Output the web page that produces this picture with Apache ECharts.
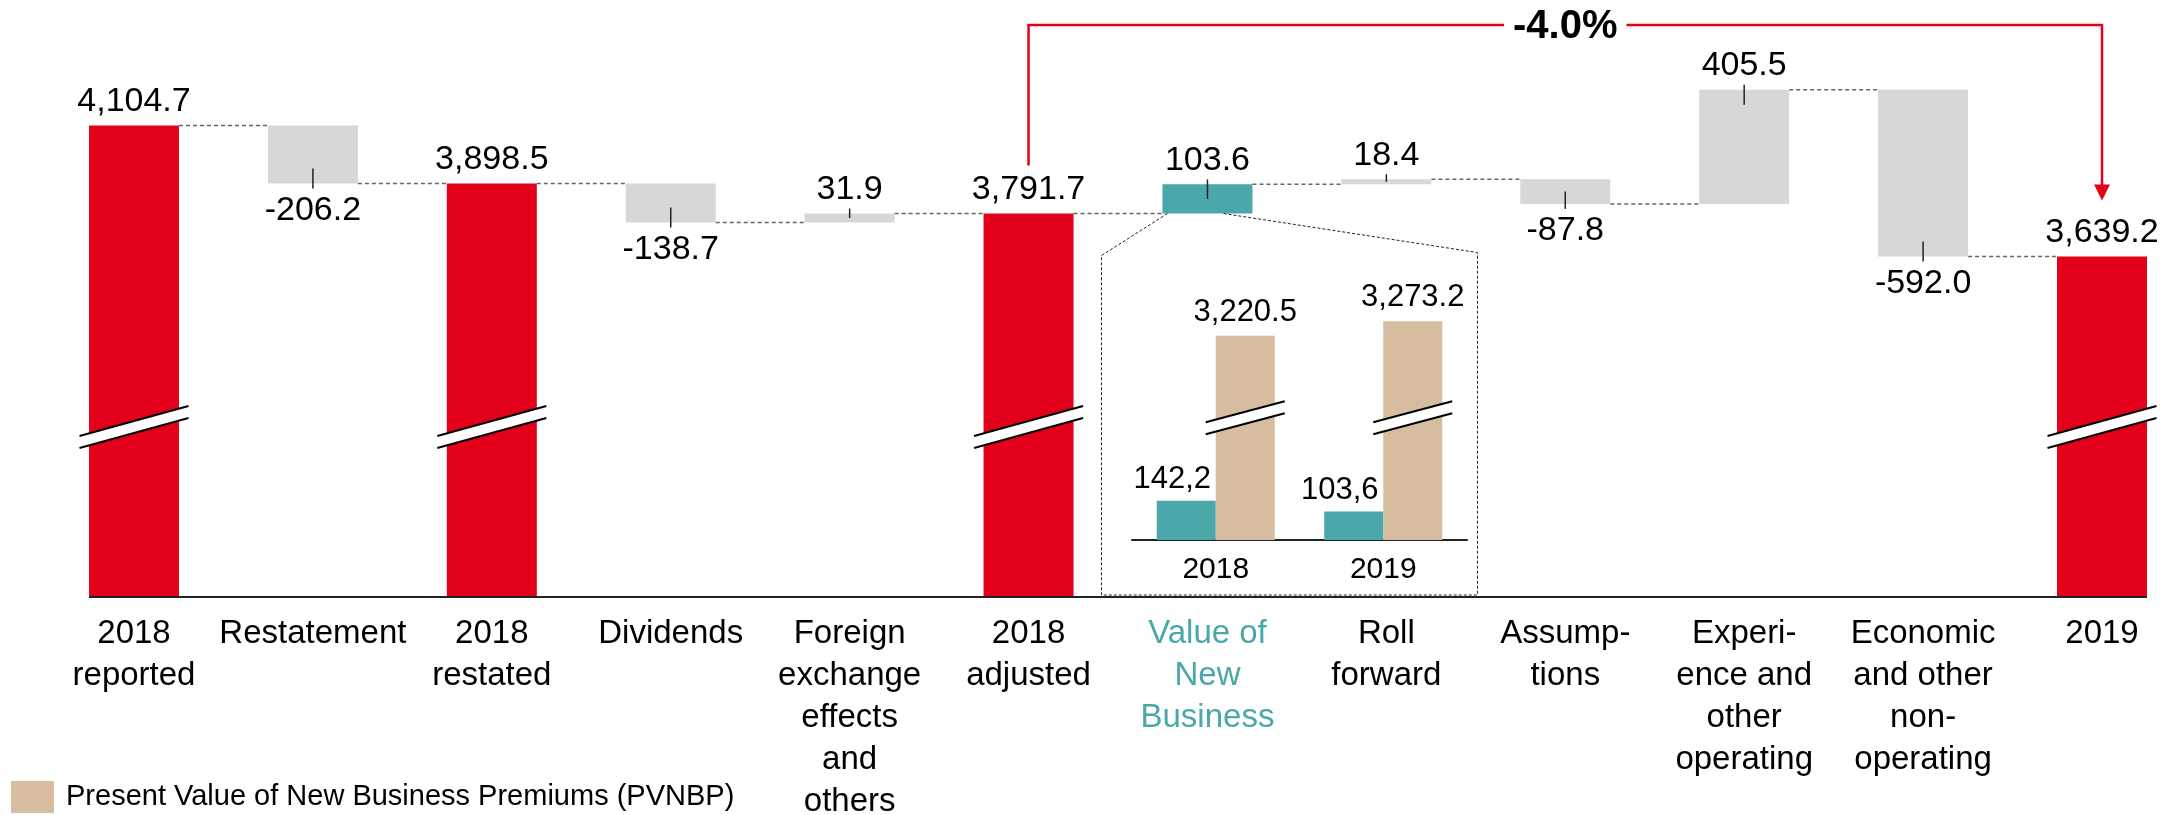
<!DOCTYPE html>
<html>
<head>
<meta charset="utf-8">
<script src="https://cdn.jsdelivr.net/npm/echarts@6.0.0/dist/echarts.min.js"></script>
<style>
  html, body { margin: 0; padding: 0; background: #fff; }
  #main { width: 2177px; height: 815px; }
</style>
</head>
<body>
<div id="main"></div>
<script>
// waterfall data
const categories = [
  '2018\nreported', 'Restatement', '2018\nrestated', 'Dividends',
  'Foreign\nexchange\neffects\nand\nothers', '2018\nadjusted', 'Value of\nNew\nBusiness',
  'Roll\nforward', 'Assump-\ntions', 'Experi-\nence and\nother\noperating',
  'Economic\nand other\nnon-\noperating', '2019'
];
const values = [4104.7, -206.2, 3898.5, -138.7, 31.9, 3791.7, 103.6, 18.4, -87.8, 405.5, -592.0, 3639.2];
const kinds = ['total', 'delta', 'total', 'delta', 'delta', 'total', 'vnb', 'delta', 'delta', 'delta', 'delta', 'total'];
const changeLabel = '-4.0%';

// inset (VNB vs PVNBP)
const insetYears = ['2018', '2019'];
const vnbValues = [142.2, 103.6];
const pvnbpValues = [3220.5, 3273.2];
const pvnbpName = 'Present Value of New Business Premiums (PVNBP)';

const FONT = '"Liberation Sans", Arial, sans-serif';
const RED = '#e3001b', GREY = '#d6d7d9', TEAL = '#4aa7aa', TAN = '#d7bd9f';
const BAR_W = 90;
const Y_MIN = 2430, Y_MAX = 4550;
const BREAK_MAIN = 3034;      // where the "//" mark sits on total bars
const BRACKET_Y = 4461;       // level of the red bracket
const INSET_BREAK = [444, 2922];

// running totals
const lows = [], highs = [], ends = [];
let run = 0;
values.forEach((v, i) => {
  if (kinds[i] === 'total') {
    lows.push(0); highs.push(v); run = v;
  } else {
    const next = run + v;
    lows.push(Math.min(run, next)); highs.push(Math.max(run, next)); run = next;
  }
  ends.push(run);
});

const fmt = v => (v < 0 ? '-' : '') + Math.abs(v).toLocaleString('en-US', { minimumFractionDigits: 1, maximumFractionDigits: 1 });
const colorOf = k => (k === 'total' ? RED : k === 'vnb' ? TEAL : GREY);

function breakMark(cx, cy, halfW, rise, gap) {
  const up = [[cx - halfW, cy + rise - gap], [cx + halfW, cy - rise - gap]];
  const lo = [[cx - halfW, cy + rise + gap], [cx + halfW, cy - rise + gap]];
  return {
    type: 'group',
    children: [
      { type: 'polygon', shape: { points: [up[0], up[1], lo[1], lo[0]] }, style: { fill: '#fff' } },
      { type: 'line', shape: { x1: up[0][0], y1: up[0][1], x2: up[1][0], y2: up[1][1] }, style: { stroke: '#000', lineWidth: 2 } },
      { type: 'line', shape: { x1: lo[0][0], y1: lo[0][1], x2: lo[1][0], y2: lo[1][1] }, style: { stroke: '#000', lineWidth: 2 } }
    ]
  };
}

const chart = echarts.init(document.getElementById('main'));

const option = {
  animation: false,
  textStyle: { fontFamily: FONT },
  legend: {
    data: [pvnbpName],
    left: 11,
    bottom: 2,
    padding: 0,
    itemWidth: 43,
    itemHeight: 32,
    icon: 'rect',
    selectedMode: false,
    textStyle: { fontSize: 29, color: '#000', fontFamily: FONT, padding: [0, 0, 0, 7] }
  },
  grid: [
    { left: 134, right: 75, top: 0, bottom: 218, outerBoundsMode: 'none', containLabel: false },
    { left: 1132, width: 335, top: 300, height: 240, outerBoundsMode: 'none', containLabel: false }
  ],
  xAxis: [
    {
      type: 'category',
      gridIndex: 0,
      boundaryGap: false,
      data: categories.map((c, i) => (kinds[i] === 'vnb' ? { value: c, textStyle: { color: TEAL } } : c)),
      axisLine: { show: false },
      axisTick: { show: false },
      axisLabel: { interval: 0, fontSize: 33, lineHeight: 42, margin: 16, color: '#000', fontFamily: FONT }
    },
    {
      type: 'category',
      gridIndex: 1,
      data: insetYears,
      axisLine: { lineStyle: { color: '#222', width: 2 } },
      axisTick: { show: false },
      axisLabel: { fontSize: 30, margin: 15, color: '#000', fontFamily: FONT }
    }
  ],
  yAxis: [
    { type: 'value', gridIndex: 0, min: Y_MIN, max: Y_MAX, show: false },
    {
      type: 'value', gridIndex: 1, min: 0, max: 3350, show: false,
      breaks: [{ start: INSET_BREAK[0], end: INSET_BREAK[1], gap: 0 }],
      breakArea: { show: false, itemStyle: { opacity: 0, borderWidth: 0 } }
    }
  ],
  series: [
    {
      name: 'base',
      type: 'bar',
      stack: 'wf',
      barWidth: BAR_W,
      silent: true,
      itemStyle: { color: 'transparent' },
      data: lows
    },
    {
      name: 'change',
      type: 'bar',
      stack: 'wf',
      barWidth: BAR_W,
      data: values.map((v, i) => {
        const below = kinds[i] !== 'total' && v < 0;
        return {
          value: highs[i] - lows[i],
          itemStyle: { color: colorOf(kinds[i]) },
          label: { position: below ? 'bottom' : 'top', distance: below ? 10 : 7 }
        };
      }),
      label: {
        show: true,
        fontSize: 34,
        color: '#000',
        fontFamily: FONT,
        formatter: p => fmt(values[p.dataIndex])
      }
    },
    {
      name: 'connectors',
      type: 'custom',
      silent: true,
      data: ends.slice(0, -1).map((v, i) => [i, v]),
      renderItem: (params, api) => {
        const i = api.value(0), v = api.value(1);
        const p = api.coord([i, v]);
        const q = api.coord([i + 1, v]);
        return {
          type: 'line',
          shape: { x1: p[0] + BAR_W / 2, y1: p[1], x2: q[0] - BAR_W / 2, y2: p[1] },
          style: { stroke: '#666', lineWidth: 1.5, lineDash: [4, 3] }
        };
      }
    },
    {
      name: 'ticks',
      type: 'custom',
      silent: true,
      z: 5,
      data: values.map((v, i) => [i, lows[i], highs[i], v]).filter((d, i) => kinds[i] !== 'total'),
      renderItem: (params, api) => {
        const i = api.value(0);
        const bot = api.coord([i, api.value(1)]);
        const top = api.coord([i, api.value(2)]);
        const inner = Math.min(15, (bot[1] - top[1]) / 2);
        const neg = api.value(3) < 0;
        const y1 = neg ? bot[1] - inner : top[1] - 5;
        const y2 = neg ? bot[1] + 5 : top[1] + inner;
        return {
          type: 'line',
          shape: { x1: top[0], y1: y1, x2: top[0], y2: y2 },
          style: { stroke: '#222', lineWidth: 1.5 }
        };
      }
    },
    {
      name: 'baseline',
      type: 'custom',
      silent: true,
      z: 6,
      data: [[0, categories.length - 1]],
      renderItem: (params, api) => {
        const a = api.coord([api.value(0), Y_MIN]);
        const b = api.coord([api.value(1), Y_MIN]);
        return {
          type: 'line',
          shape: { x1: a[0] - BAR_W / 2, y1: a[1], x2: b[0] + BAR_W / 2, y2: b[1] },
          style: { stroke: '#222', lineWidth: 2 }
        };
      }
    },
    {
      name: 'breaks',
      type: 'custom',
      silent: true,
      z: 6,
      data: values.map((v, i) => [i, BREAK_MAIN]).filter((d, i) => kinds[i] === 'total'),
      renderItem: (params, api) => {
        const c = api.coord([api.value(0), api.value(1)]);
        return breakMark(c[0], c[1], BAR_W / 2 + 9.5, 15, 6);
      }
    },
    {
      name: 'insetOutline',
      type: 'custom',
      silent: true,
      z: 4,
      data: [[kinds.indexOf('vnb'), lows[kinds.indexOf('vnb')]]],
      renderItem: (params, api) => {
        const c = api.coord([api.value(0), api.value(1)]);
        const base = api.coord([api.value(0), Y_MIN]);
        return {
          type: 'polyline',
          shape: {
            points: [
              [c[0] - 40, c[1]], [c[0] - 106, c[1] + 42], [c[0] - 106, base[1] - 2],
              [c[0] + 270, base[1] - 2], [c[0] + 270, c[1] + 39], [c[0] + 16, c[1]]
            ]
          },
          style: { stroke: '#222', lineWidth: 1, lineDash: [3, 2], fill: null }
        };
      }
    },
    {
      name: 'bracket',
      type: 'custom',
      silent: true,
      z: 7,
      data: [[kinds.indexOf('total', 5), categories.length - 1]],
      renderItem: (params, api) => {
        const i0 = api.value(0), i1 = api.value(1);
        const a = api.coord([i0, values[i0]]);
        const b = api.coord([i1, values[i1]]);
        const topY = api.coord([i0, BRACKET_Y])[1];
        const leftEnd = a[1] - 48;
        const tip = b[1] - 56;
        return {
          type: 'group',
          children: [
            {
              type: 'polyline',
              shape: { points: [[a[0], leftEnd], [a[0], topY], [b[0], topY], [b[0], tip - 14]] },
              style: { stroke: RED, lineWidth: 2.5, fill: null }
            },
            {
              type: 'polygon',
              shape: { points: [[b[0] - 8, tip - 16], [b[0] + 8, tip - 16], [b[0], tip]] },
              style: { fill: RED }
            },
            {
              type: 'text',
              x: (a[0] + b[0]) / 2,
              y: topY + 2,
              style: {
                text: changeLabel,
                font: 'bold 40px ' + FONT,
                fill: '#000',
                align: 'center',
                verticalAlign: 'middle',
                backgroundColor: '#fff',
                padding: [0, 9]
              }
            }
          ]
        };
      }
    },
    {
      name: 'VNB',
      type: 'bar',
      xAxisIndex: 1,
      yAxisIndex: 1,
      barWidth: 59,
      barGap: '0%',
      itemStyle: { color: TEAL },
      data: vnbValues,
      label: {
        show: true,
        position: 'top',
        distance: 6,
        offset: [-14, 0],
        fontSize: 31,
        color: '#000',
        fontFamily: FONT,
        formatter: p => p.value.toFixed(1).replace('.', ',')
      }
    },
    {
      name: pvnbpName,
      type: 'bar',
      xAxisIndex: 1,
      yAxisIndex: 1,
      barWidth: 59,
      barGap: '0%',
      itemStyle: { color: TAN },
      data: pvnbpValues,
      label: {
        show: true,
        position: 'top',
        distance: 8,
        fontSize: 31,
        color: '#000',
        fontFamily: FONT,
        formatter: p => fmt(p.value)
      }
    },
    {
      name: 'insetBreaks',
      type: 'custom',
      silent: true,
      xAxisIndex: 1,
      yAxisIndex: 1,
      z: 6,
      data: insetYears.map((y, i) => [i, INSET_BREAK[0]]),
      renderItem: (params, api) => {
        const c = api.coord([api.value(0), api.value(1)]);
        return breakMark(c[0] + 29.5, c[1], 39.5, 10.5, 6);
      }
    }
  ]
};

chart.setOption(option);
</script>
</body>
</html>
